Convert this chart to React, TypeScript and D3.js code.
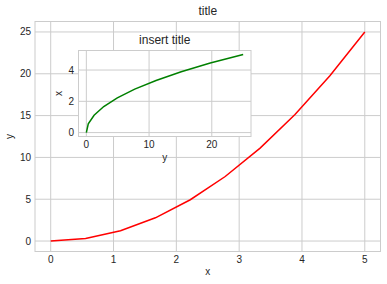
import React from "react";
import * as d3 from "d3";

const xValues = [0, 0.5556, 1.1111, 1.6667, 2.2222, 2.7778, 3.3333, 3.8889, 4.4444, 5];
const yValues = [0, 0.3086, 1.2346, 2.7778, 4.9383, 7.7160, 11.1111, 15.1235, 19.7531, 25];
const mainXTicks = [0, 1, 2, 3, 4, 5];
const mainYTicks = [0, 5, 10, 15, 20, 25];
const insetXTicks = [0, 10, 20];
const insetYTicks = [0, 2, 4];

const W = 387, H = 284;
const FONT = "'Liberation Sans', Arial, sans-serif";
const TXT = "#262626";
const GRID = "#cccccc";

export default function App() {
  const main = { l: 35, r: 380.5, t: 21.5, b: 251.5 };
  const inset = { l: 78.5, r: 251, t: 50.5, b: 136.5 };

  const mx = d3.scaleLinear().domain([-0.25, 5.25]).range([main.l, main.r]);
  const my = d3.scaleLinear().domain([-1.25, 26.25]).range([main.b, main.t]);
  const ix = d3.scaleLinear().domain([-1.25, 26.25]).range([inset.l, inset.r]);
  const iy = d3.scaleLinear().domain([-0.25, 5.25]).range([inset.b, inset.t]);

  const mainPts: [number, number][] = xValues.map((x, i) => [x, yValues[i]]);
  const insetPts: [number, number][] = xValues.map((x, i) => [yValues[i], x]);

  const mainLine = d3.line<[number, number]>().x(d => mx(d[0])).y(d => my(d[1]))(mainPts) || "";
  const insetLine = d3.line<[number, number]>().x(d => ix(d[0])).y(d => iy(d[1]))(insetPts) || "";

  return (
    <svg width={W} height={H} style={{ position: "absolute", left: 0, top: 0 }} fontFamily={FONT}>
      <rect x={0} y={0} width={W} height={H} fill="#fff" />
      {/* main axes */}
      <rect x={main.l} y={main.t} width={main.r - main.l} height={main.b - main.t} fill="#fff" />
      {mainXTicks.map(t => (
        <line key={"mxg" + t} x1={mx(t)} x2={mx(t)} y1={main.t} y2={main.b} stroke={GRID} strokeWidth={1} />
      ))}
      {mainYTicks.map(t => (
        <line key={"myg" + t} x1={main.l} x2={main.r} y1={my(t)} y2={my(t)} stroke={GRID} strokeWidth={1} />
      ))}
      <rect x={main.l} y={main.t} width={main.r - main.l} height={main.b - main.t} fill="none" stroke={GRID} strokeWidth={1} />
      <path d={mainLine} fill="none" stroke="#ff0000" strokeWidth={1.5} />
      {mainXTicks.map(t => (
        <text key={"mxt" + t} x={mx(t)} y={263} textAnchor="middle" fontSize={10} fill={TXT}>{t}</text>
      ))}
      {mainYTicks.map(t => (
        <text key={"myt" + t} x={31} y={my(t) + 3.5} textAnchor="end" fontSize={10} fill={TXT}>{t}</text>
      ))}
      <text x={(main.l + main.r) / 2} y={275} textAnchor="middle" fontSize={10} fill={TXT}>x</text>
      <text transform={`translate(13,${(main.t + main.b) / 2}) rotate(-90)`} textAnchor="middle" fontSize={10} fill={TXT}>y</text>
      <text x={(main.l + main.r) / 2} y={15} textAnchor="middle" fontSize={12} fill={TXT}>title</text>

      {/* inset axes */}
      <rect x={inset.l} y={inset.t} width={inset.r - inset.l} height={inset.b - inset.t} fill="#fff" />
      {insetXTicks.map(t => (
        <line key={"ixg" + t} x1={ix(t)} x2={ix(t)} y1={inset.t} y2={inset.b} stroke={GRID} strokeWidth={1} />
      ))}
      {insetYTicks.map(t => (
        <line key={"iyg" + t} x1={inset.l} x2={inset.r} y1={iy(t)} y2={iy(t)} stroke={GRID} strokeWidth={1} />
      ))}
      <rect x={inset.l} y={inset.t} width={inset.r - inset.l} height={inset.b - inset.t} fill="none" stroke={GRID} strokeWidth={1} />
      <path d={insetLine} fill="none" stroke="#008000" strokeWidth={1.5} />
      {insetXTicks.map(t => (
        <text key={"ixt" + t} x={ix(t)} y={148} textAnchor="middle" fontSize={10} fill={TXT}>{t}</text>
      ))}
      {insetYTicks.map(t => (
        <text key={"iyt" + t} x={74} y={iy(t) + 3.5} textAnchor="end" fontSize={10} fill={TXT}>{t}</text>
      ))}
      <text x={(inset.l + inset.r) / 2} y={161} textAnchor="middle" fontSize={10} fill={TXT}>y</text>
      <text transform={`translate(62,${(inset.t + inset.b) / 2}) rotate(-90)`} textAnchor="middle" fontSize={10} fill={TXT}>x</text>
      <text x={(inset.l + inset.r) / 2} y={44} textAnchor="middle" fontSize={12} fill={TXT}>insert title</text>
    </svg>
  );
}
